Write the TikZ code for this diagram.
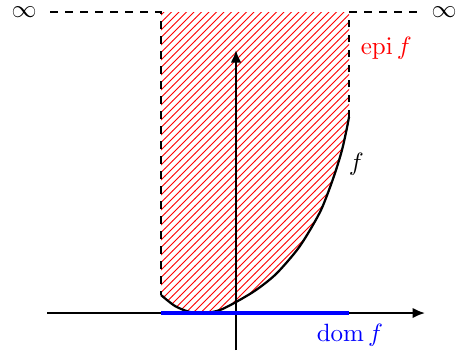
\documentclass[tikz,border=0pt]{standalone}
\usetikzlibrary{patterns,arrows.meta}
\tikzset{
  axisline/.style={line width=0.8pt,-{Latex[length=5pt,width=4.2pt]}},
  bounddash/.style={line width=0.8pt,dashed},
  curveline/.style={line width=0.9pt},
  domline/.style={line width=1.3pt,blue},
  hatch/.style={pattern=north east lines,pattern color=red},
}
\begin{document}
\begin{tikzpicture}[x=0.4pt,y=-0.4pt]
\useasboundingbox (0,0) rectangle (457,356);
% hatched epigraph
\fill[hatch] (161,12) -- (349,12) -- plot[smooth] coordinates {(349,117) (346.5,130) (342,150) (336,170) (329,190) (321,210) (310,230) (297,250) (276,274) (256,290) (236,302) (220,310) (205,313) (190,312) (175,306) (161,295)} -- cycle;
% named points
\coordinate (xs) at (47,313);
\coordinate (xe) at (425,313);
\coordinate (ys) at (236,350);
\coordinate (ye) at (236,50);
\coordinate (tl) at (161,12);
\coordinate (bl) at (161,295);
\coordinate (tr) at (349,12);
\coordinate (br) at (349,117);
\coordinate (dl) at (161,313);
\coordinate (dr) at (349,313);
\coordinate (dls) at (50,12);
\coordinate (dre) at (420,12);
\node[inner sep=1pt] (infL) at (24,12) {$\infty$};
\node[inner sep=1pt] (infR) at (444,12) {$\infty$};
\node[red,anchor=west] (epi) at (352,48) {$\mathrm{epi}\,f$};
\node[anchor=west] (flab) at (340,164) {$f$};
\node[blue] (dom) at (350,335) {$\mathrm{dom}\,f$};
% axes
\draw[axisline] (xs) -- (xe);
\draw[axisline] (ys) -- (ye);
% curve
\draw[curveline] plot[smooth] coordinates {(161,295) (175,306) (190,312) (205,313) (220,310) (236,302) (256,290) (276,274) (297,250) (310,230) (321,210) (329,190) (336,170) (342,150) (346.5,130) (349,117)};
% dashed bounds
\draw[bounddash] (dls) -- (tl) -- (bl);
\draw[bounddash] (br) -- (tr) -- (dre);
% domain
\draw[domline] (dl) -- (dr);
\end{tikzpicture}
\end{document}
